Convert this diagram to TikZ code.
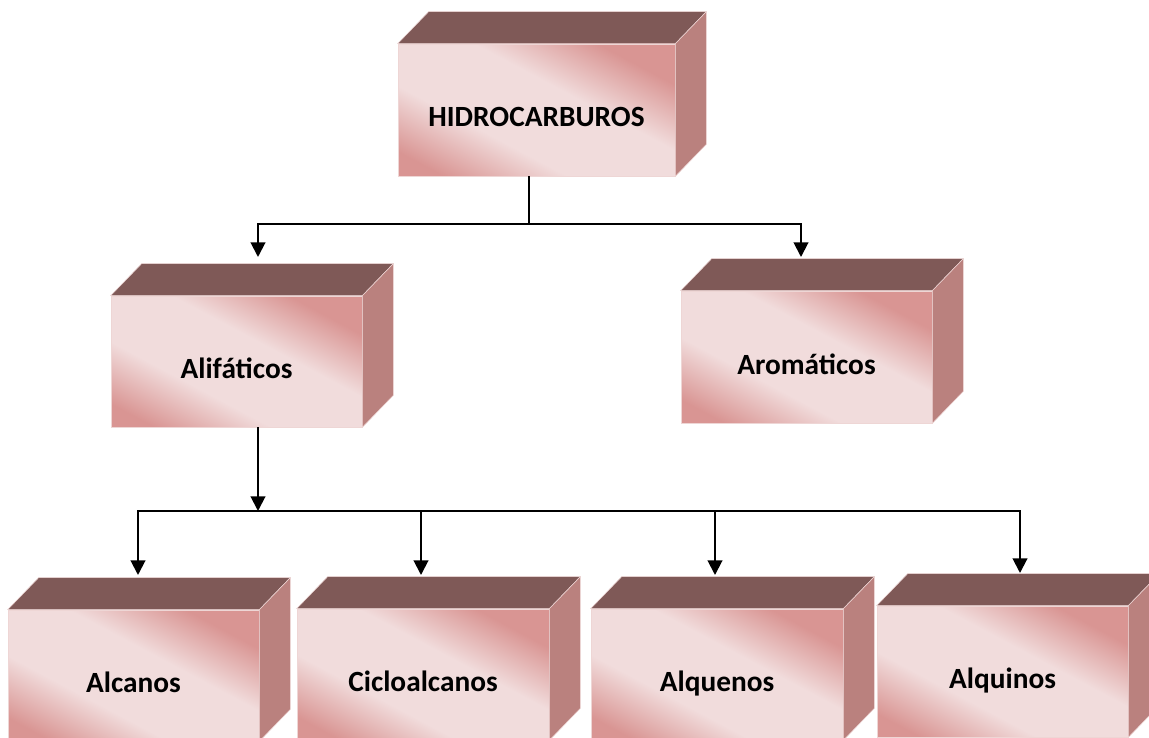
\documentclass[tikz,border=0pt]{standalone}
\usepackage{fontspec}
\setmainfont{Carlito}
\usetikzlibrary{arrows.meta}
\definecolor{cubetop}{HTML}{7F5957}
\definecolor{cubeside}{HTML}{BA817E}
\definecolor{cubelight}{HTML}{F1DCDC}
\definecolor{cubedark}{HTML}{D99593}
\definecolor{cubeedge}{HTML}{EED6D5}
\pgfdeclarehorizontalshading{cubefront}{100bp}{color(0bp)=(cubedark); color(22bp)=(cubedark); color(38bp)=(cubelight); color(58bp)=(cubelight); color(74bp)=(cubedark); color(100bp)=(cubedark)}
\tikzset{
  front/.style={rectangle, shading=cubefront, shading angle=62, draw=cubeedge, line width=0.5pt, inner sep=0pt},
  topface/.style={fill=cubetop, draw=cubeedge, line width=0.4pt},
  sideface/.style={fill=cubeside, draw=cubeedge, line width=0.4pt},
  lbl/.style={font=\bfseries\fontsize{22}{26}\selectfont, text=black, inner sep=0pt},
  conn/.style={line width=1.5pt, draw=black},
  arr/.style={conn, -{Triangle[width=11pt,length=11pt]}},
}
\newcommand\cubebox[5]{%
  \node[front, minimum width=#3*0.75pt, minimum height=#4*0.75pt] (#1) at (#2) {};
  \draw[topface] (#1.north west) -- ([shift={(31,-32)}]#1.north west) -- ([shift={(31,-32)}]#1.north east) -- (#1.north east) -- cycle;
  \draw[sideface] (#1.north east) -- ([shift={(31,-32)}]#1.north east) -- ([shift={(31,-32)}]#1.south east) -- (#1.south east) -- cycle;
  \node[lbl, anchor=base] (#1-t) at ([yshift=-12.75pt]#1.center) {#5};
}
\begin{document}
\begin{tikzpicture}[x=0.75pt,y=-0.75pt]
\useasboundingbox (0,0) rectangle (1149,738);
% boxes
\cubebox{H}{536.5,110}{277}{132}{HIDROCARBUROS}
\cubebox{Al}{236.5,361.5}{251}{131}{Alifáticos}
\cubebox{Ar}{806.5,357}{251}{132}{Aromáticos}
\cubebox{Ac}{133.5,675.5}{251}{131}{Alcanos}
\cubebox{Ci}{423,674.5}{252}{131}{Cicloalcanos}
\cubebox{Aq}{717,674.5}{252}{131}{Alquenos}
\cubebox{Ai}{1002.5,671.5}{251}{131}{Alquinos}
% connector points
\coordinate (j1) at (529,224);
\coordinate (tAl) at (258,257);
\coordinate (tAr) at (801,257);
\coordinate (j2) at (258,511);
\coordinate (tAc) at (138,575);
\coordinate (tCi) at (421,575);
\coordinate (tAq) at (715,575);
\coordinate (tAi) at (1020,573);
% connectors
\draw[conn] (H.south -| j1) -- (j1);
\draw[arr] (j1) -| (tAl);
\draw[arr] (j1) -| (tAr);
\draw[arr] (Al.south -| j2) -- (j2);
\draw[arr] (j2) -| (tAc);
\draw[arr] (j2) -| (tCi);
\draw[arr] (j2) -| (tAq);
\draw[arr] (j2) -| (tAi);
\end{tikzpicture}
\end{document}
